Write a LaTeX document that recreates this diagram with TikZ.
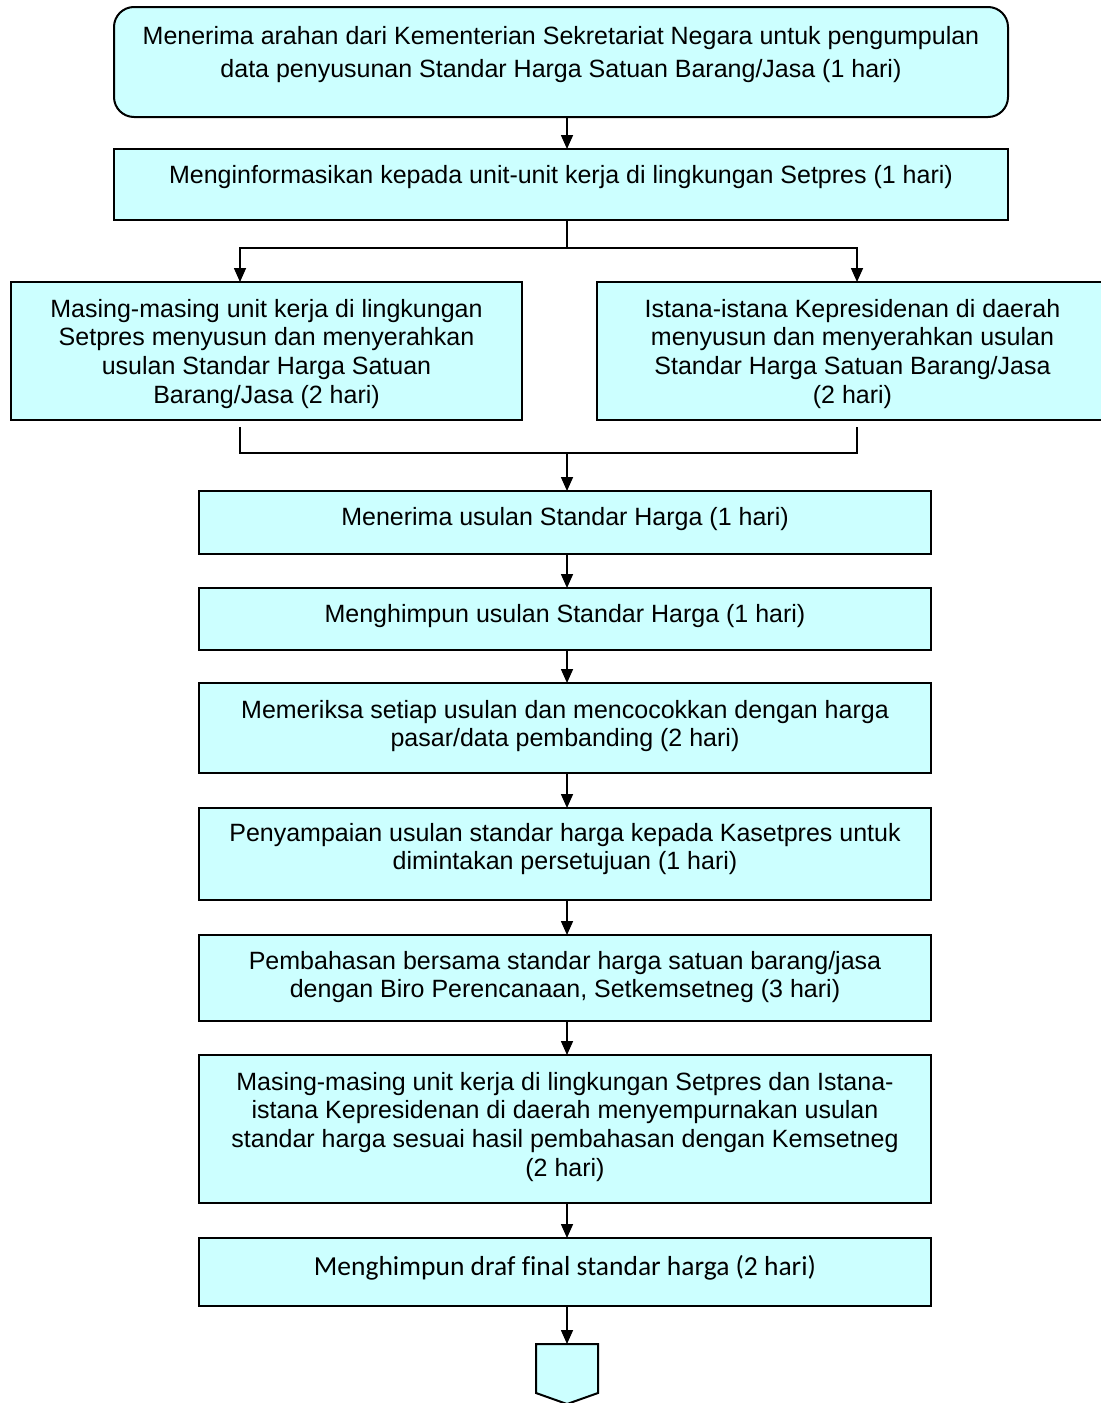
\documentclass[tikz,border=0pt]{standalone}
\usepackage{fontspec}
\setmainfont{Liberation Sans}
\newfontfamily\calibrifont[Ligatures=CommonOff]{Carlito}
\usetikzlibrary{positioning,arrows.meta}
\definecolor{boxcyan}{HTML}{CCFFFF}

\begin{document}
\begin{tikzpicture}[x=0.5pt, y=-0.5pt,
  stepbox/.style={draw, line width=1pt, fill=boxcyan, inner sep=0pt, outer sep=0pt, anchor=north west},
  steptext/.style={align=center, inner sep=0pt, font=\fontsize{12.5}{14.4}\selectfont},
  conn/.style={line width=0.8pt},
  arr/.style={conn, -{Triangle[length=7pt,width=6pt]}}]
\useasboundingbox (0,0) rectangle (1101,1403);

% boxes
\node[stepbox, rounded corners=10pt, minimum width=447pt, minimum height=55pt] (b1) at (114,7) {};
\node[stepbox, minimum width=447pt, minimum height=35.5pt] (b2) at (114,149) {};
\node[stepbox, minimum width=255.5pt, minimum height=69pt] (bl) at (11,282) {};
\node[stepbox, minimum width=255.5pt, minimum height=69pt] (br) at (597,282) {};
\node[stepbox, minimum width=366pt, minimum height=31.5pt] (b3) at (199,491) {};
\node[stepbox, minimum width=366pt, minimum height=31pt] (b4) at (199,588) {};
\node[stepbox, minimum width=366pt, minimum height=45pt] (b5) at (199,683) {};
\node[stepbox, minimum width=366pt, minimum height=46pt] (b6) at (199,808) {};
\node[stepbox, minimum width=366pt, minimum height=43pt] (b7) at (199,935) {};
\node[stepbox, minimum width=366pt, minimum height=74pt] (b8) at (199,1055) {};
\node[stepbox, minimum width=366pt, minimum height=34pt] (b9) at (199,1238) {};

% texts
\node[steptext, font=\fontsize{12.5}{16.5}\selectfont, below=9.3pt of b1.north] (t1)
  {Menerima arahan dari Kementerian Sekretariat Negara untuk pengumpulan\\
   data penyusunan Standar Harga Satuan Barang/Jasa (1 hari)};
\node[steptext, below=7.8pt of b2.north] (t2)
  {Menginformasikan kepada unit-unit kerja di lingkungan Setpres (1 hari)};
\node[steptext, below=8.3pt of bl.north] (tl)
  {Masing-masing unit kerja di lingkungan\\ Setpres menyusun dan menyerahkan\\
   usulan Standar Harga Satuan\\ Barang/Jasa (2 hari)};
\node[steptext, below=8.3pt of br.north] (tr)
  {Istana-istana Kepresidenan di daerah\\ menyusun dan menyerahkan usulan\\
   Standar Harga Satuan Barang/Jasa\\ (2 hari)};
\node[steptext, below=7.8pt of b3.north] (t3) {Menerima usulan Standar Harga (1 hari)};
\node[steptext, below=7.8pt of b4.north] (t4) {Menghimpun usulan Standar Harga (1 hari)};
\node[steptext, below=8.3pt of b5.north] (t5)
  {Memeriksa setiap usulan dan mencocokkan dengan harga\\ pasar/data pembanding (2 hari)};
\node[steptext, below=7.3pt of b6.north] (t6)
  {Penyampaian usulan standar harga kepada Kasetpres untuk\\ dimintakan persetujuan (1 hari)};
\node[steptext, below=7.8pt of b7.north] (t7)
  {Pembahasan bersama standar harga satuan barang/jasa\\ dengan Biro Perencanaan, Setkemsetneg (3 hari)};
\node[steptext, below=8.3pt of b8.north] (t8)
  {Masing-masing unit kerja di lingkungan Setpres dan Istana-\\
   istana Kepresidenan di daerah menyempurnakan usulan\\
   standar harga sesuai hasil pembahasan dengan Kemsetneg\\ (2 hari)};
\node[steptext, font=\calibrifont\fontsize{13.75}{16}\selectfont, below=8.6pt of b9.north] (t9)
  {Menghimpun draf final standar harga (2 hari)};

% off-page connector
\coordinate (off) at (567,1344);
\draw[line width=1pt, fill=boxcyan] (536,1344) -- (598,1344) -- (598,1393) -- (567,1404)
  -- (536,1393) -- cycle;

% connectors
\coordinate (fork) at (567,248);
\coordinate (join) at (567,453);
\coordinate (outl) at (240,427);
\coordinate (outr) at (857,427);
\draw[arr] (b1.south -| fork) -- (b2.north -| fork);
\draw[conn] (b2.south -| fork) -- (fork);
\draw[arr] (fork) -| (outl |- bl.north);
\draw[arr] (fork) -| (outr |- br.north);
\draw[conn] (outl) |- (join) -| (outr);
\draw[arr] (join) -- (b3.north -| join);
\foreach \a/\b in {b3/b4,b4/b5,b5/b6,b6/b7,b7/b8,b8/b9}
  \draw[arr] (\a.south -| join) -- (\b.north -| join);
\draw[arr] (b9.south -| off) -- (off);
\end{tikzpicture}
\end{document}
